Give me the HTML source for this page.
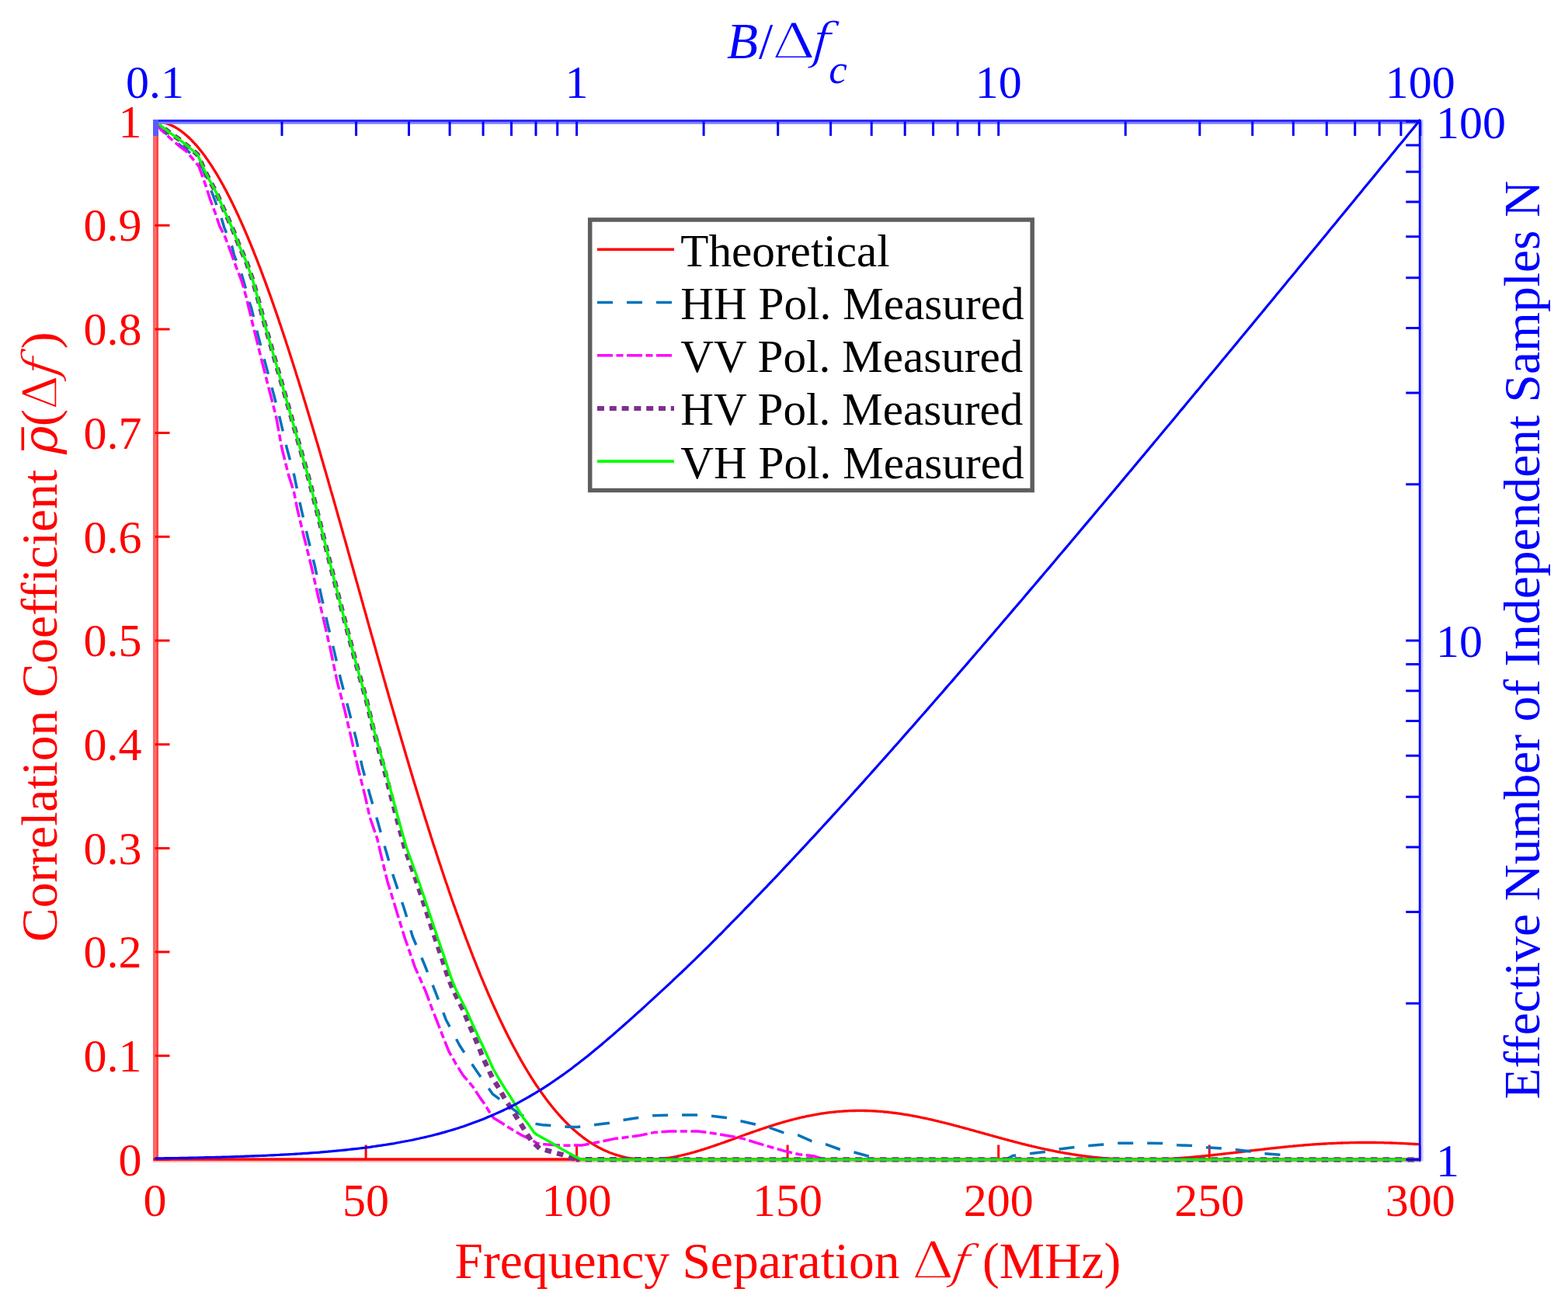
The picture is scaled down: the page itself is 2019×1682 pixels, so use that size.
<!DOCTYPE html>
<html><head><meta charset="utf-8"><title>Correlation coefficient vs frequency separation</title><style>html,body{margin:0;padding:0;background:#fff;overflow:hidden;}svg{display:block;}</style></head><body>
<svg width="2019" height="1682" viewBox="0 0 2019 1682">
<rect x="0" y="0" width="2019" height="1682" fill="#ffffff"/>
<rect x="197" y="156.5" width="3.5" height="1339.0" fill="#ff6464"/>
<rect x="200.5" y="156.5" width="3.5" height="1339.0" fill="#ff4646"/>
<rect x="197.5" y="1491.3" width="1631.3" height="3.6" fill="#ff0000"/>
<rect x="197.5" y="1494.9" width="1631.3" height="2" fill="#ffb4b4"/>
<path d="M199.5 1493.5H218.5M199.5 1359.8H218.5M199.5 1226.1H218.5M199.5 1092.4H218.5M199.5 958.7H218.5M199.5 825.0H218.5M199.5 691.3H218.5M199.5 557.6H218.5M199.5 423.9H218.5M199.5 290.2H218.5M199.5 156.5H218.5M471.1 1493.5V1474.5M742.6 1493.5V1474.5M1014.1 1493.5V1474.5M1285.7 1493.5V1474.5M1557.2 1493.5V1474.5M1828.8 1493.5V1474.5" stroke="#ff0000" stroke-width="3" fill="none"/>
<g fill="none" stroke-linejoin="round">
<polyline points="199.5,156.5 200.9,156.5 202.2,156.6 203.6,156.7 204.9,156.8 206.3,157.0 207.6,157.2 209.0,157.5 210.4,157.8 211.7,158.1 213.1,158.5 214.4,158.9 215.8,159.4 217.2,159.9 218.5,160.4 219.9,161.0 221.2,161.7 222.6,162.3 223.9,163.0 225.3,163.8 226.7,164.5 228.0,165.4 229.4,166.2 230.7,167.1 232.1,168.1 233.4,169.0 234.8,170.1 236.2,171.1 237.5,172.2 238.9,173.4 240.2,174.5 241.6,175.8 242.9,177.0 244.3,178.3 245.7,179.6 247.0,181.0 248.4,182.4 249.7,183.9 251.1,185.3 252.5,186.9 253.8,188.4 255.2,190.0 256.5,191.7 257.9,193.3 259.2,195.1 260.6,196.8 262.0,198.6 263.3,200.4 264.7,202.3 266.0,204.2 267.4,206.1 268.7,208.1 270.1,210.1 271.5,212.2 272.8,214.2 274.2,216.4 275.5,218.5 276.9,220.7 278.2,222.9 279.6,225.2 281.0,227.5 282.3,229.8 283.7,232.2 285.0,234.6 286.4,237.0 287.8,239.5 289.1,242.0 290.5,244.5 291.8,247.1 293.2,249.7 294.5,252.4 295.9,255.0 297.3,257.8 298.6,260.5 300.0,263.3 301.3,266.1 302.7,268.9 304.0,271.8 305.4,274.7 306.8,277.6 308.1,280.6 309.5,283.6 310.8,286.6 312.2,289.7 313.6,292.8 314.9,295.9 316.3,299.1 317.6,302.2 319.0,305.4 320.3,308.7 321.7,312.0 323.1,315.3 324.4,318.6 325.8,322.0 327.1,325.3 328.5,328.8 329.8,332.2 331.2,335.7 332.6,339.2 333.9,342.7 335.3,346.2 336.6,349.8 338.0,353.4 339.3,357.1 340.7,360.7 342.1,364.4 343.4,368.1 344.8,371.9 346.1,375.6 347.5,379.4 348.9,383.2 350.2,387.1 351.6,390.9 352.9,394.8 354.3,398.7 355.6,402.6 357.0,406.6 358.4,410.6 359.7,414.6 361.1,418.6 362.4,422.6 363.8,426.7 365.1,430.8 366.5,434.9 367.9,439.0 369.2,443.2 370.6,447.3 371.9,451.5 373.3,455.7 374.6,459.9 376.0,464.2 377.4,468.5 378.7,472.7 380.1,477.0 381.4,481.4 382.8,485.7 384.2,490.1 385.5,494.4 386.9,498.8 388.2,503.2 389.6,507.6 390.9,512.1 392.3,516.5 393.7,521.0 395.0,525.5 396.4,530.0 397.7,534.5 399.1,539.0 400.4,543.6 401.8,548.1 403.2,552.7 404.5,557.3 405.9,561.8 407.2,566.5 408.6,571.1 410.0,575.7 411.3,580.3 412.7,585.0 414.0,589.7 415.4,594.3 416.7,599.0 418.1,603.7 419.5,608.4 420.8,613.1 422.2,617.8 423.5,622.6 424.9,627.3 426.2,632.1 427.6,636.8 429.0,641.6 430.3,646.3 431.7,651.1 433.0,655.9 434.4,660.7 435.7,665.5 437.1,670.3 438.5,675.1 439.8,679.9 441.2,684.7 442.5,689.6 443.9,694.4 445.3,699.2 446.6,704.0 448.0,708.9 449.3,713.7 450.7,718.6 452.0,723.4 453.4,728.3 454.8,733.1 456.1,738.0 457.5,742.8 458.8,747.7 460.2,752.5 461.5,757.4 462.9,762.2 464.3,767.1 465.6,772.0 467.0,776.8 468.3,781.7 469.7,786.5 471.1,791.4 472.4,796.2 473.8,801.1 475.1,805.9 476.5,810.8 477.8,815.6 479.2,820.4 480.6,825.3 481.9,830.1 483.3,834.9 484.6,839.7 486.0,844.6 487.3,849.4 488.7,854.2 490.1,859.0 491.4,863.8 492.8,868.6 494.1,873.4 495.5,878.1 496.8,882.9 498.2,887.7 499.6,892.4 500.9,897.2 502.3,901.9 503.6,906.6 505.0,911.4 506.4,916.1 507.7,920.8 509.1,925.5 510.4,930.2 511.8,934.9 513.1,939.5 514.5,944.2 515.9,948.8 517.2,953.5 518.6,958.1 519.9,962.7 521.3,967.3 522.6,971.9 524.0,976.5 525.4,981.1 526.7,985.7 528.1,990.2 529.4,994.7 530.8,999.3 532.1,1003.8 533.5,1008.3 534.9,1012.8 536.2,1017.2 537.6,1021.7 538.9,1026.1 540.3,1030.6 541.7,1035.0 543.0,1039.4 544.4,1043.7 545.7,1048.1 547.1,1052.5 548.4,1056.8 549.8,1061.1 551.2,1065.4 552.5,1069.7 553.9,1074.0 555.2,1078.3 556.6,1082.5 557.9,1086.7 559.3,1090.9 560.7,1095.1 562.0,1099.3 563.4,1103.5 564.7,1107.6 566.1,1111.7 567.5,1115.8 568.8,1119.9 570.2,1124.0 571.5,1128.0 572.9,1132.0 574.2,1136.0 575.6,1140.0 577.0,1144.0 578.3,1148.0 579.7,1151.9 581.0,1155.8 582.4,1159.7 583.7,1163.6 585.1,1167.4 586.5,1171.2 587.8,1175.1 589.2,1178.8 590.5,1182.6 591.9,1186.4 593.2,1190.1 594.6,1193.8 596.0,1197.5 597.3,1201.2 598.7,1204.8 600.0,1208.4 601.4,1212.0 602.8,1215.6 604.1,1219.2 605.5,1222.7 606.8,1226.2 608.2,1229.7 609.5,1233.2 610.9,1236.6 612.3,1240.0 613.6,1243.4 615.0,1246.8 616.3,1250.2 617.7,1253.5 619.0,1256.8 620.4,1260.1 621.8,1263.4 623.1,1266.6 624.5,1269.8 625.8,1273.0 627.2,1276.2 628.5,1279.4 629.9,1282.5 631.3,1285.6 632.6,1288.7 634.0,1291.7 635.3,1294.8 636.7,1297.8 638.1,1300.7 639.4,1303.7 640.8,1306.6 642.1,1309.6 643.5,1312.4 644.8,1315.3 646.2,1318.1 647.6,1321.0 648.9,1323.7 650.3,1326.5 651.6,1329.3 653.0,1332.0 654.3,1334.7 655.7,1337.3 657.1,1340.0 658.4,1342.6 659.8,1345.2 661.1,1347.8 662.5,1350.3 663.9,1352.8 665.2,1355.3 666.6,1357.8 667.9,1360.3 669.3,1362.7 670.6,1365.1 672.0,1367.5 673.4,1369.8 674.7,1372.2 676.1,1374.5 677.4,1376.7 678.8,1379.0 680.1,1381.2 681.5,1383.4 682.9,1385.6 684.2,1387.8 685.6,1389.9 686.9,1392.0 688.3,1394.1 689.6,1396.2 691.0,1398.2 692.4,1400.2 693.7,1402.2 695.1,1404.2 696.4,1406.1 697.8,1408.0 699.2,1409.9 700.5,1411.8 701.9,1413.6 703.2,1415.5 704.6,1417.3 705.9,1419.0 707.3,1420.8 708.7,1422.5 710.0,1424.2 711.4,1425.9 712.7,1427.6 714.1,1429.2 715.4,1430.8 716.8,1432.4 718.2,1434.0 719.5,1435.5 720.9,1437.0 722.2,1438.5 723.6,1440.0 724.9,1441.4 726.3,1442.9 727.7,1444.3 729.0,1445.7 730.4,1447.0 731.7,1448.3 733.1,1449.7 734.5,1451.0 735.8,1452.2 737.2,1453.5 738.5,1454.7 739.9,1455.9 741.2,1457.1 742.6,1458.3 744.0,1459.4 745.3,1460.5 746.7,1461.6 748.0,1462.7 749.4,1463.8 750.7,1464.8 752.1,1465.8 753.5,1466.8 754.8,1467.8 756.2,1468.7 757.5,1469.7 758.9,1470.6 760.3,1471.5 761.6,1472.3 763.0,1473.2 764.3,1474.0 765.7,1474.8 767.0,1475.6 768.4,1476.4 769.8,1477.2 771.1,1477.9 772.5,1478.6 773.8,1479.3 775.2,1480.0 776.5,1480.7 777.9,1481.3 779.3,1481.9 780.6,1482.5 782.0,1483.1 783.3,1483.7 784.7,1484.3 786.0,1484.8 787.4,1485.3 788.8,1485.8 790.1,1486.3 791.5,1486.8 792.8,1487.2 794.2,1487.6 795.6,1488.0 796.9,1488.4 798.3,1488.8 799.6,1489.2 801.0,1489.5 802.3,1489.9 803.7,1490.2 805.1,1490.5 806.4,1490.8 807.8,1491.1 809.1,1491.3 810.5,1491.6 811.8,1491.8 813.2,1492.0 814.6,1492.2 815.9,1492.4 817.3,1492.5 818.6,1492.7 820.0,1492.8 821.3,1493.0 822.7,1493.1 824.1,1493.2 825.4,1493.3 826.8,1493.3 828.1,1493.4 829.5,1493.4 830.9,1493.5 832.2,1493.5 833.6,1493.5 834.9,1493.5 836.3,1493.5 837.6,1493.5 839.0,1493.4 840.4,1493.4 841.7,1493.3 843.1,1493.2 844.4,1493.1 845.8,1493.0 847.1,1492.9 848.5,1492.8 849.9,1492.7 851.2,1492.6 852.6,1492.4 853.9,1492.2 855.3,1492.1 856.7,1491.9 858.0,1491.7 859.4,1491.5 860.7,1491.3 862.1,1491.1 863.4,1490.9 864.8,1490.6 866.2,1490.4 867.5,1490.1 868.9,1489.9 870.2,1489.6 871.6,1489.3 872.9,1489.0 874.3,1488.8 875.7,1488.5 877.0,1488.2 878.4,1487.8 879.7,1487.5 881.1,1487.2 882.4,1486.9 883.8,1486.5 885.2,1486.2 886.5,1485.8 887.9,1485.5 889.2,1485.1 890.6,1484.7 892.0,1484.3 893.3,1484.0 894.7,1483.6 896.0,1483.2 897.4,1482.8 898.7,1482.4 900.1,1482.0 901.5,1481.6 902.8,1481.1 904.2,1480.7 905.5,1480.3 906.9,1479.9 908.2,1479.4 909.6,1479.0 911.0,1478.5 912.3,1478.1 913.7,1477.6 915.0,1477.2 916.4,1476.7 917.7,1476.3 919.1,1475.8 920.5,1475.4 921.8,1474.9 923.2,1474.4 924.5,1473.9 925.9,1473.5 927.3,1473.0 928.6,1472.5 930.0,1472.0 931.3,1471.6 932.7,1471.1 934.0,1470.6 935.4,1470.1 936.8,1469.6 938.1,1469.1 939.5,1468.7 940.8,1468.2 942.2,1467.7 943.5,1467.2 944.9,1466.7 946.3,1466.2 947.6,1465.7 949.0,1465.2 950.3,1464.7 951.7,1464.2 953.1,1463.8 954.4,1463.3 955.8,1462.8 957.1,1462.3 958.5,1461.8 959.8,1461.3 961.2,1460.8 962.6,1460.3 963.9,1459.9 965.3,1459.4 966.6,1458.9 968.0,1458.4 969.3,1457.9 970.7,1457.5 972.1,1457.0 973.4,1456.5 974.8,1456.0 976.1,1455.6 977.5,1455.1 978.8,1454.6 980.2,1454.2 981.6,1453.7 982.9,1453.3 984.3,1452.8 985.6,1452.4 987.0,1451.9 988.4,1451.5 989.7,1451.0 991.1,1450.6 992.4,1450.2 993.8,1449.7 995.1,1449.3 996.5,1448.9 997.9,1448.4 999.2,1448.0 1000.6,1447.6 1001.9,1447.2 1003.3,1446.8 1004.6,1446.4 1006.0,1446.0 1007.4,1445.6 1008.7,1445.2 1010.1,1444.8 1011.4,1444.4 1012.8,1444.0 1014.1,1443.7 1015.5,1443.3 1016.9,1442.9 1018.2,1442.6 1019.6,1442.2 1020.9,1441.9 1022.3,1441.5 1023.7,1441.2 1025.0,1440.8 1026.4,1440.5 1027.7,1440.2 1029.1,1439.8 1030.4,1439.5 1031.8,1439.2 1033.2,1438.9 1034.5,1438.6 1035.9,1438.3 1037.2,1438.0 1038.6,1437.7 1039.9,1437.4 1041.3,1437.1 1042.7,1436.9 1044.0,1436.6 1045.4,1436.3 1046.7,1436.1 1048.1,1435.8 1049.5,1435.6 1050.8,1435.3 1052.2,1435.1 1053.5,1434.9 1054.9,1434.6 1056.2,1434.4 1057.6,1434.2 1059.0,1434.0 1060.3,1433.8 1061.7,1433.6 1063.0,1433.4 1064.4,1433.2 1065.7,1433.1 1067.1,1432.9 1068.5,1432.7 1069.8,1432.6 1071.2,1432.4 1072.5,1432.3 1073.9,1432.1 1075.2,1432.0 1076.6,1431.8 1078.0,1431.7 1079.3,1431.6 1080.7,1431.5 1082.0,1431.4 1083.4,1431.3 1084.8,1431.2 1086.1,1431.1 1087.5,1431.0 1088.8,1430.9 1090.2,1430.8 1091.5,1430.8 1092.9,1430.7 1094.3,1430.7 1095.6,1430.6 1097.0,1430.6 1098.3,1430.5 1099.7,1430.5 1101.0,1430.5 1102.4,1430.4 1103.8,1430.4 1105.1,1430.4 1106.5,1430.4 1107.8,1430.4 1109.2,1430.4 1110.6,1430.4 1111.9,1430.4 1113.3,1430.5 1114.6,1430.5 1116.0,1430.5 1117.3,1430.6 1118.7,1430.6 1120.1,1430.7 1121.4,1430.7 1122.8,1430.8 1124.1,1430.9 1125.5,1430.9 1126.8,1431.0 1128.2,1431.1 1129.6,1431.2 1130.9,1431.3 1132.3,1431.4 1133.6,1431.5 1135.0,1431.6 1136.3,1431.7 1137.7,1431.8 1139.1,1432.0 1140.4,1432.1 1141.8,1432.2 1143.1,1432.4 1144.5,1432.5 1145.9,1432.7 1147.2,1432.8 1148.6,1433.0 1149.9,1433.2 1151.3,1433.3 1152.6,1433.5 1154.0,1433.7 1155.4,1433.9 1156.7,1434.1 1158.1,1434.2 1159.4,1434.4 1160.8,1434.6 1162.1,1434.9 1163.5,1435.1 1164.9,1435.3 1166.2,1435.5 1167.6,1435.7 1168.9,1436.0 1170.3,1436.2 1171.6,1436.4 1173.0,1436.7 1174.4,1436.9 1175.7,1437.2 1177.1,1437.4 1178.4,1437.7 1179.8,1437.9 1181.2,1438.2 1182.5,1438.5 1183.9,1438.7 1185.2,1439.0 1186.6,1439.3 1187.9,1439.6 1189.3,1439.8 1190.7,1440.1 1192.0,1440.4 1193.4,1440.7 1194.7,1441.0 1196.1,1441.3 1197.4,1441.6 1198.8,1441.9 1200.2,1442.2 1201.5,1442.5 1202.9,1442.9 1204.2,1443.2 1205.6,1443.5 1207.0,1443.8 1208.3,1444.1 1209.7,1444.5 1211.0,1444.8 1212.4,1445.1 1213.7,1445.5 1215.1,1445.8 1216.5,1446.1 1217.8,1446.5 1219.2,1446.8 1220.5,1447.2 1221.9,1447.5 1223.2,1447.9 1224.6,1448.2 1226.0,1448.6 1227.3,1448.9 1228.7,1449.3 1230.0,1449.6 1231.4,1450.0 1232.7,1450.4 1234.1,1450.7 1235.5,1451.1 1236.8,1451.5 1238.2,1451.8 1239.5,1452.2 1240.9,1452.6 1242.3,1452.9 1243.6,1453.3 1245.0,1453.7 1246.3,1454.0 1247.7,1454.4 1249.0,1454.8 1250.4,1455.2 1251.8,1455.5 1253.1,1455.9 1254.5,1456.3 1255.8,1456.7 1257.2,1457.1 1258.5,1457.4 1259.9,1457.8 1261.3,1458.2 1262.6,1458.6 1264.0,1458.9 1265.3,1459.3 1266.7,1459.7 1268.0,1460.1 1269.4,1460.5 1270.8,1460.8 1272.1,1461.2 1273.5,1461.6 1274.8,1462.0 1276.2,1462.4 1277.6,1462.7 1278.9,1463.1 1280.3,1463.5 1281.6,1463.9 1283.0,1464.2 1284.3,1464.6 1285.7,1465.0 1287.1,1465.4 1288.4,1465.7 1289.8,1466.1 1291.1,1466.5 1292.5,1466.8 1293.8,1467.2 1295.2,1467.6 1296.6,1467.9 1297.9,1468.3 1299.3,1468.7 1300.6,1469.0 1302.0,1469.4 1303.4,1469.7 1304.7,1470.1 1306.1,1470.5 1307.4,1470.8 1308.8,1471.2 1310.1,1471.5 1311.5,1471.9 1312.9,1472.2 1314.2,1472.6 1315.6,1472.9 1316.9,1473.3 1318.3,1473.6 1319.6,1473.9 1321.0,1474.3 1322.4,1474.6 1323.7,1474.9 1325.1,1475.3 1326.4,1475.6 1327.8,1475.9 1329.1,1476.3 1330.5,1476.6 1331.9,1476.9 1333.2,1477.2 1334.6,1477.5 1335.9,1477.8 1337.3,1478.2 1338.7,1478.5 1340.0,1478.8 1341.4,1479.1 1342.7,1479.4 1344.1,1479.7 1345.4,1480.0 1346.8,1480.3 1348.2,1480.5 1349.5,1480.8 1350.9,1481.1 1352.2,1481.4 1353.6,1481.7 1354.9,1481.9 1356.3,1482.2 1357.7,1482.5 1359.0,1482.8 1360.4,1483.0 1361.7,1483.3 1363.1,1483.5 1364.4,1483.8 1365.8,1484.1 1367.2,1484.3 1368.5,1484.5 1369.9,1484.8 1371.2,1485.0 1372.6,1485.3 1374.0,1485.5 1375.3,1485.7 1376.7,1486.0 1378.0,1486.2 1379.4,1486.4 1380.7,1486.6 1382.1,1486.8 1383.5,1487.0 1384.8,1487.3 1386.2,1487.5 1387.5,1487.7 1388.9,1487.9 1390.2,1488.1 1391.6,1488.2 1393.0,1488.4 1394.3,1488.6 1395.7,1488.8 1397.0,1489.0 1398.4,1489.1 1399.8,1489.3 1401.1,1489.5 1402.5,1489.6 1403.8,1489.8 1405.2,1490.0 1406.5,1490.1 1407.9,1490.3 1409.3,1490.4 1410.6,1490.6 1412.0,1490.7 1413.3,1490.8 1414.7,1491.0 1416.0,1491.1 1417.4,1491.2 1418.8,1491.3 1420.1,1491.5 1421.5,1491.6 1422.8,1491.7 1424.2,1491.8 1425.5,1491.9 1426.9,1492.0 1428.3,1492.1 1429.6,1492.2 1431.0,1492.3 1432.3,1492.4 1433.7,1492.5 1435.1,1492.5 1436.4,1492.6 1437.8,1492.7 1439.1,1492.8 1440.5,1492.8 1441.8,1492.9 1443.2,1493.0 1444.6,1493.0 1445.9,1493.1 1447.3,1493.1 1448.6,1493.2 1450.0,1493.2 1451.3,1493.3 1452.7,1493.3 1454.1,1493.3 1455.4,1493.4 1456.8,1493.4 1458.1,1493.4 1459.5,1493.4 1460.8,1493.5 1462.2,1493.5 1463.6,1493.5 1464.9,1493.5 1466.3,1493.5 1467.6,1493.5 1469.0,1493.5 1470.4,1493.5 1471.7,1493.5 1473.1,1493.5 1474.4,1493.5 1475.8,1493.5 1477.1,1493.4 1478.5,1493.4 1479.9,1493.4 1481.2,1493.4 1482.6,1493.3 1483.9,1493.3 1485.3,1493.3 1486.6,1493.2 1488.0,1493.2 1489.4,1493.1 1490.7,1493.1 1492.1,1493.0 1493.4,1493.0 1494.8,1492.9 1496.2,1492.9 1497.5,1492.8 1498.9,1492.8 1500.2,1492.7 1501.6,1492.6 1502.9,1492.6 1504.3,1492.5 1505.7,1492.4 1507.0,1492.3 1508.4,1492.3 1509.7,1492.2 1511.1,1492.1 1512.4,1492.0 1513.8,1491.9 1515.2,1491.8 1516.5,1491.7 1517.9,1491.6 1519.2,1491.5 1520.6,1491.4 1521.9,1491.3 1523.3,1491.2 1524.7,1491.1 1526.0,1491.0 1527.4,1490.9 1528.7,1490.8 1530.1,1490.7 1531.5,1490.6 1532.8,1490.5 1534.2,1490.3 1535.5,1490.2 1536.9,1490.1 1538.2,1490.0 1539.6,1489.9 1541.0,1489.7 1542.3,1489.6 1543.7,1489.5 1545.0,1489.3 1546.4,1489.2 1547.7,1489.1 1549.1,1488.9 1550.5,1488.8 1551.8,1488.7 1553.2,1488.5 1554.5,1488.4 1555.9,1488.3 1557.2,1488.1 1558.6,1488.0 1560.0,1487.8 1561.3,1487.7 1562.7,1487.5 1564.0,1487.4 1565.4,1487.2 1566.8,1487.1 1568.1,1486.9 1569.5,1486.8 1570.8,1486.6 1572.2,1486.5 1573.5,1486.3 1574.9,1486.2 1576.3,1486.0 1577.6,1485.9 1579.0,1485.7 1580.3,1485.6 1581.7,1485.4 1583.0,1485.2 1584.4,1485.1 1585.8,1484.9 1587.1,1484.8 1588.5,1484.6 1589.8,1484.4 1591.2,1484.3 1592.6,1484.1 1593.9,1484.0 1595.3,1483.8 1596.6,1483.6 1598.0,1483.5 1599.3,1483.3 1600.7,1483.2 1602.1,1483.0 1603.4,1482.8 1604.8,1482.7 1606.1,1482.5 1607.5,1482.4 1608.8,1482.2 1610.2,1482.0 1611.6,1481.9 1612.9,1481.7 1614.3,1481.6 1615.6,1481.4 1617.0,1481.2 1618.3,1481.1 1619.7,1480.9 1621.1,1480.8 1622.4,1480.6 1623.8,1480.5 1625.1,1480.3 1626.5,1480.2 1627.9,1480.0 1629.2,1479.8 1630.6,1479.7 1631.9,1479.5 1633.3,1479.4 1634.6,1479.2 1636.0,1479.1 1637.4,1478.9 1638.7,1478.8 1640.1,1478.6 1641.4,1478.5 1642.8,1478.3 1644.1,1478.2 1645.5,1478.1 1646.9,1477.9 1648.2,1477.8 1649.6,1477.6 1650.9,1477.5 1652.3,1477.4 1653.7,1477.2 1655.0,1477.1 1656.4,1476.9 1657.7,1476.8 1659.1,1476.7 1660.4,1476.5 1661.8,1476.4 1663.2,1476.3 1664.5,1476.2 1665.9,1476.0 1667.2,1475.9 1668.6,1475.8 1669.9,1475.7 1671.3,1475.5 1672.7,1475.4 1674.0,1475.3 1675.4,1475.2 1676.7,1475.1 1678.1,1475.0 1679.4,1474.9 1680.8,1474.7 1682.2,1474.6 1683.5,1474.5 1684.9,1474.4 1686.2,1474.3 1687.6,1474.2 1689.0,1474.1 1690.3,1474.0 1691.7,1473.9 1693.0,1473.8 1694.4,1473.7 1695.7,1473.6 1697.1,1473.6 1698.5,1473.5 1699.8,1473.4 1701.2,1473.3 1702.5,1473.2 1703.9,1473.1 1705.2,1473.0 1706.6,1473.0 1708.0,1472.9 1709.3,1472.8 1710.7,1472.7 1712.0,1472.7 1713.4,1472.6 1714.7,1472.5 1716.1,1472.5 1717.5,1472.4 1718.8,1472.4 1720.2,1472.3 1721.5,1472.2 1722.9,1472.2 1724.3,1472.1 1725.6,1472.1 1727.0,1472.0 1728.3,1472.0 1729.7,1471.9 1731.0,1471.9 1732.4,1471.9 1733.8,1471.8 1735.1,1471.8 1736.5,1471.8 1737.8,1471.7 1739.2,1471.7 1740.5,1471.7 1741.9,1471.6 1743.3,1471.6 1744.6,1471.6 1746.0,1471.6 1747.3,1471.5 1748.7,1471.5 1750.1,1471.5 1751.4,1471.5 1752.8,1471.5 1754.1,1471.5 1755.5,1471.5 1756.8,1471.5 1758.2,1471.5 1759.6,1471.5 1760.9,1471.5 1762.3,1471.5 1763.6,1471.5 1765.0,1471.5 1766.3,1471.5 1767.7,1471.5 1769.1,1471.5 1770.4,1471.5 1771.8,1471.5 1773.1,1471.6 1774.5,1471.6 1775.8,1471.6 1777.2,1471.6 1778.6,1471.7 1779.9,1471.7 1781.3,1471.7 1782.6,1471.8 1784.0,1471.8 1785.4,1471.8 1786.7,1471.9 1788.1,1471.9 1789.4,1471.9 1790.8,1472.0 1792.1,1472.0 1793.5,1472.1 1794.9,1472.1 1796.2,1472.2 1797.6,1472.2 1798.9,1472.3 1800.3,1472.3 1801.6,1472.4 1803.0,1472.5 1804.4,1472.5 1805.7,1472.6 1807.1,1472.7 1808.4,1472.7 1809.8,1472.8 1811.1,1472.9 1812.5,1472.9 1813.9,1473.0 1815.2,1473.1 1816.6,1473.1 1817.9,1473.2 1819.3,1473.3 1820.7,1473.4 1822.0,1473.5 1823.4,1473.6 1824.7,1473.6 1826.1,1473.7 1827.4,1473.8 1828.8,1473.9" stroke="#ff0000" stroke-width="3.3"/>
<polyline points="199.5,156.5 207.5,166.5 219.5,177.0 232.5,187.5 242.0,194.5 249.5,202.0 260.0,214.0 268.0,236.5 274.3,251.4 285.7,282.8 288.6,292.8 298.6,317.0 301.4,328.5 311.4,354.2 314.3,364.2 321.4,390.0 323.8,397.1 332.8,434.2 342.3,470.4 352.3,507.4 359.9,536.9 369.3,577.0 378.6,611.3 386.3,648.5 396.6,693.3 405.5,729.5 413.7,767.5 421.8,803.6 429.9,836.9 439.0,876.0 449.0,914.3 458.5,951.4 466.6,988.5 477.1,1026.5 484.8,1052.7 494.9,1088.6 505.6,1125.7 520.5,1170.5 531.4,1206.5 546.6,1242.3 560.8,1277.9 574.2,1313.2 591.9,1346.5 613.3,1378.8 634.5,1409.2 666.6,1432.8 688.3,1447.2" stroke="#0072bd" stroke-width="3.5" stroke-dasharray="20 18" stroke-dashoffset="34.7"/>
<polyline points="688.3,1447.2 698.2,1448.7 736.6,1451.6 743.0,1451.5 764.0,1448.8 783.0,1446.6 802.0,1442.5 821.8,1439.5 840.0,1436.8 859.0,1436.3 877.3,1436.1 897.0,1436.1 916.0,1437.3 935.0,1439.5 952.6,1443.5 972.4,1448.0 991.0,1452.3 1008.5,1458.6 1027.5,1461.8 1045.0,1469.7 1063.0,1473.7 1080.6,1480.0 1099.7,1484.0 1117.0,1488.7 1130.0,1493.5 1295.0,1493.5" stroke="#0072bd" stroke-width="3.5" stroke-dasharray="20 18" stroke-dashoffset="36.8"/>
<polyline points="1295.0,1493.5 1304.0,1488.5 1326.0,1485.8 1345.0,1483.5 1364.0,1480.0 1383.8,1477.5 1402.8,1475.5 1420.3,1474.0 1440.0,1472.3 1459.0,1472.3 1478.0,1472.3 1498.0,1472.6 1516.0,1474.7 1534.4,1475.5 1553.4,1477.8 1573.2,1479.0 1592.0,1480.8 1610.3,1483.0 1628.3,1485.8 1649.0,1487.2 1666.0,1493.5 1828.8,1493.5" stroke="#0072bd" stroke-width="3.5" stroke-dasharray="20 18" stroke-dashoffset="5.5"/>
<polyline points="199.5,156.5 207.1,166.9 219.0,177.8 230.9,188.3 239.5,194.5 246.6,202.6 256.1,214.5 264.3,237.1 270.7,257.1 277.1,274.2 282.8,291.3 290.0,305.6 296.4,322.7 304.2,344.2 311.4,362.7 317.1,382.7 320.4,397.1 329.5,434.2 338.5,470.4 348.0,507.4 355.6,536.9 362.9,577.0 371.4,611.3 378.6,634.1 382.8,655.7 391.9,693.3 400.9,729.5 409.5,767.5 418.0,803.6 425.6,836.9 434.3,878.5 443.8,914.3 452.5,951.4 460.9,988.5 470.4,1026.5 476.1,1052.2 485.7,1080.0 490.0,1098.6 498.6,1134.2 510.0,1171.4 521.4,1208.5 534.3,1245.6 541.9,1262.8 548.6,1278.0 556.2,1299.0 563.8,1318.0 570.4,1335.1 578.0,1354.1 586.6,1369.4 596.1,1384.6 606.6,1396.9 609.2,1400.0 618.3,1414.1 625.0,1423.3 629.5,1431.0 635.8,1440.0 646.6,1446.6 658.3,1454.1 670.8,1461.6 683.3,1467.4 691.6,1472.4 704.1,1474.1" stroke="#ff00ff" stroke-width="3.5" stroke-dasharray="20 4.5 9 4.5"/>
<polyline points="704.1,1474.1 729.1,1475.3 749.9,1474.9 768.7,1471.3 791.0,1466.6 822.6,1462.6 841.6,1458.6 862.3,1457.0 898.7,1457.0 917.7,1459.4 941.5,1463.4 957.3,1466.6 974.8,1472.1 993.8,1477.7 1010.0,1482.4 1029.0,1486.8 1047.0,1488.7 1062.0,1493.5 1828.8,1493.5" stroke="#ff00ff" stroke-width="3.5" stroke-dasharray="20 4.5 9 4.5" stroke-dashoffset="3.1"/>
<polyline points="199.5,156.5 206.2,161.2 218.1,170.7 230.9,179.7 242.8,189.2 254.3,199.0 263.3,219.2 271.3,235.0 278.5,248.1 286.5,266.0 294.6,283.8 300.8,298.0 307.1,314.2 317.1,337.0 325.6,361.3 332.8,387.0 339.9,414.1 368.6,514.2 398.6,620.0 416.0,689.5 425.5,727.6 435.2,765.6 445.0,803.6 460.0,860.0 471.4,900.0 480.4,938.0 495.9,995.1 510.5,1052.2 520.6,1090.0 538.0,1140.0 548.3,1171.4 558.4,1202.8 567.8,1230.4 577.1,1258.9 582.7,1273.2 589.3,1286.5 596.5,1301.0 603.9,1319.0 610.0,1333.2 616.2,1347.5 621.6,1361.7 627.5,1374.2 634.1,1388.3 642.5,1401.6 650.0,1415.0 659.1,1429.1 667.4,1442.4 675.8,1455.8 684.1,1469.1 694.9,1479.1 709.9,1483.2 724.9,1487.4 741.5,1493.3" stroke="#7e2f8e" stroke-width="6.4" stroke-dasharray="8.5 7.3"/>
<polyline points="741.5,1493.3 1828.8,1493.5" stroke="#7e2f8e" stroke-width="6.4" stroke-dasharray="8.5 7.3" stroke-dashoffset="3.6"/>
<polyline points="199.5,156.5 206.2,161.2 218.1,170.7 230.9,179.7 242.8,189.2 254.3,199.0 263.3,219.2 271.3,235.0 278.5,248.1 286.5,266.0 294.6,283.8 300.8,298.0 307.1,314.2 317.1,337.0 325.6,361.3 332.8,387.0 339.9,414.1 368.6,514.2 398.6,620.0 416.0,689.5 425.5,727.6 435.2,765.6 445.0,803.6 460.0,860.0 471.4,900.0 480.9,938.0 497.0,995.1 512.3,1052.2 522.9,1090.0 540.9,1140.0 551.4,1171.4 561.8,1202.8 571.3,1230.4 580.8,1258.9 586.5,1273.2 593.2,1286.5 600.5,1301.0 608.5,1319.0 615.1,1333.2 621.8,1347.5 628.5,1362.0 635.0,1376.5 642.5,1389.5 650.0,1401.6 658.3,1414.1 663.3,1422.4 673.3,1439.1 679.9,1447.4 687.4,1458.3 691.6,1461.6 708.2,1470.7 724.9,1480.7 741.5,1489.9 749.0,1493.5 1828.8,1493.5" stroke="#00ff00" stroke-width="3.4"/>
</g>
<rect x="197.0" y="154" width="1633.3" height="3" fill="#2a2aff"/>
<rect x="200.5" y="157" width="1628.3" height="2.8" fill="#8080ff"/>
<rect x="1826.8" y="154" width="3" height="1341.5" fill="#0000ff"/>
<rect x="1829.8" y="154" width="2.8" height="1341.5" fill="#c8c8ff"/>
<path d="M199.5 156.5V175.0M363.0 156.5V175.0M458.6 156.5V175.0M526.5 156.5V175.0M579.1 156.5V175.0M622.1 156.5V175.0M658.5 156.5V175.0M690.0 156.5V175.0M717.7 156.5V175.0M742.6 156.5V175.0M906.1 156.5V175.0M1001.7 156.5V175.0M1069.6 156.5V175.0M1122.2 156.5V175.0M1165.2 156.5V175.0M1201.6 156.5V175.0M1233.1 156.5V175.0M1260.8 156.5V175.0M1285.7 156.5V175.0M1449.2 156.5V175.0M1544.8 156.5V175.0M1612.7 156.5V175.0M1665.3 156.5V175.0M1708.3 156.5V175.0M1744.7 156.5V175.0M1776.2 156.5V175.0M1803.9 156.5V175.0M1828.8 156.5V175.0M1828.8 1493.5H1810.3M1828.8 1292.3H1810.3M1828.8 1174.5H1810.3M1828.8 1091.0H1810.3M1828.8 1026.2H1810.3M1828.8 973.3H1810.3M1828.8 928.6H1810.3M1828.8 889.8H1810.3M1828.8 855.6H1810.3M1828.8 825.0H1810.3M1828.8 623.8H1810.3M1828.8 506.0H1810.3M1828.8 422.5H1810.3M1828.8 357.7H1810.3M1828.8 304.8H1810.3M1828.8 260.1H1810.3M1828.8 221.3H1810.3M1828.8 187.1H1810.3M1828.8 156.5H1810.3" stroke="#0000ff" stroke-width="3" fill="none"/>
<rect x="197" y="154" width="7" height="21" fill="#5a5aff"/>
<polyline points="199.5,1491.9 202.2,1491.9 204.9,1491.8 207.6,1491.8 210.4,1491.8 213.1,1491.7 215.8,1491.7 218.5,1491.6 221.2,1491.6 223.9,1491.5 226.7,1491.5 229.4,1491.5 232.1,1491.4 234.8,1491.4 237.5,1491.3 240.2,1491.3 242.9,1491.2 245.7,1491.2 248.4,1491.1 251.1,1491.0 253.8,1491.0 256.5,1490.9 259.2,1490.9 262.0,1490.8 264.7,1490.7 267.4,1490.7 270.1,1490.6 272.8,1490.5 275.5,1490.5 278.2,1490.4 281.0,1490.3 283.7,1490.3 286.4,1490.2 289.1,1490.1 291.8,1490.0 294.5,1490.0 297.3,1489.9 300.0,1489.8 302.7,1489.7 305.4,1489.6 308.1,1489.5 310.8,1489.4 313.6,1489.3 316.3,1489.2 319.0,1489.1 321.7,1489.0 324.4,1488.9 327.1,1488.8 329.8,1488.7 332.6,1488.6 335.3,1488.5 338.0,1488.4 340.7,1488.3 343.4,1488.2 346.1,1488.0 348.9,1487.9 351.6,1487.8 354.3,1487.6 357.0,1487.5 359.7,1487.4 362.4,1487.2 365.1,1487.1 367.9,1486.9 370.6,1486.8 373.3,1486.6 376.0,1486.5 378.7,1486.3 381.4,1486.1 384.2,1486.0 386.9,1485.8 389.6,1485.6 392.3,1485.4 395.0,1485.3 397.7,1485.1 400.4,1484.9 403.2,1484.7 405.9,1484.5 408.6,1484.3 411.3,1484.1 414.0,1483.8 416.7,1483.6 419.5,1483.4 422.2,1483.2 424.9,1482.9 427.6,1482.7 430.3,1482.4 433.0,1482.2 435.7,1481.9 438.5,1481.7 441.2,1481.4 443.9,1481.1 446.6,1480.8 449.3,1480.5 452.0,1480.2 454.8,1479.9 457.5,1479.6 460.2,1479.3 462.9,1479.0 465.6,1478.7 468.3,1478.3 471.0,1478.0 473.8,1477.6 476.5,1477.3 479.2,1476.9 481.9,1476.5 484.6,1476.1 487.3,1475.7 490.1,1475.3 492.8,1474.9 495.5,1474.5 498.2,1474.1 500.9,1473.7 503.6,1473.2 506.4,1472.8 509.1,1472.3 511.8,1471.8 514.5,1471.3 517.2,1470.8 519.9,1470.3 522.6,1469.8 525.4,1469.3 528.1,1468.7 530.8,1468.2 533.5,1467.6 536.2,1467.0 538.9,1466.5 541.7,1465.8 544.4,1465.2 547.1,1464.6 549.8,1464.0 552.5,1463.3 555.2,1462.7 557.9,1462.0 560.7,1461.3 563.4,1460.6 566.1,1459.9 568.8,1459.1 571.5,1458.4 574.2,1457.6 577.0,1456.8 579.7,1456.0 582.4,1455.2 585.1,1454.4 587.8,1453.5 590.5,1452.7 593.2,1451.8 596.0,1450.9 598.7,1450.0 601.4,1449.0 604.1,1448.1 606.8,1447.1 609.5,1446.1 612.3,1445.1 615.0,1444.1 617.7,1443.0 620.4,1442.0 623.1,1440.9 625.8,1439.8 628.5,1438.6 631.3,1437.5 634.0,1436.3 636.7,1435.1 639.4,1433.9 642.1,1432.7 644.8,1431.5 647.6,1430.2 650.3,1428.9 653.0,1427.6 655.7,1426.2 658.4,1424.9 661.1,1423.5 663.9,1422.1 666.6,1420.6 669.3,1419.2 672.0,1417.7 674.7,1416.2 677.4,1414.7 680.1,1413.1 682.9,1411.5 685.6,1409.9 688.3,1408.3 691.0,1406.7 693.7,1405.0 696.4,1403.3 699.2,1401.6 701.9,1399.9 704.6,1398.1 707.3,1396.3 710.0,1394.5 712.7,1392.7 715.4,1390.8 718.2,1388.9 720.9,1387.0 723.6,1385.1 726.3,1383.2 729.0,1381.2 731.7,1379.2 734.5,1377.2 737.2,1375.2 739.9,1373.1 742.6,1371.0 745.3,1368.9 748.0,1366.8 750.7,1364.7 753.5,1362.5 756.2,1360.4 758.9,1358.2 761.6,1356.0 764.3,1353.8 767.0,1351.5 769.8,1349.3 772.5,1347.0 775.2,1344.7 777.9,1342.4 780.6,1340.1 783.3,1337.8 786.0,1335.5 788.8,1333.1 791.5,1330.8 794.2,1328.4 796.9,1326.0 799.6,1323.6 802.3,1321.2 805.1,1318.8 807.8,1316.4 810.5,1314.0 813.2,1311.6 815.9,1309.1 818.6,1306.7 821.3,1304.2 824.1,1301.8 826.8,1299.3 829.5,1296.8 832.2,1294.4 834.9,1291.9 837.6,1289.4 840.4,1286.9 843.1,1284.4 845.8,1281.9 848.5,1279.4 851.2,1276.9 853.9,1274.4 856.7,1271.9 859.4,1269.3 862.1,1266.8 864.8,1264.3 867.5,1261.7 870.2,1259.2 872.9,1256.6 875.7,1254.0 878.4,1251.5 881.1,1248.9 883.8,1246.3 886.5,1243.7 889.2,1241.1 892.0,1238.4 894.7,1235.8 897.4,1233.2 900.1,1230.5 902.8,1227.8 905.5,1225.2 908.2,1222.5 911.0,1219.8 913.7,1217.1 916.4,1214.4 919.1,1211.7 921.8,1209.0 924.5,1206.2 927.3,1203.5 930.0,1200.8 932.7,1198.0 935.4,1195.2 938.1,1192.5 940.8,1189.7 943.5,1186.9 946.3,1184.2 949.0,1181.4 951.7,1178.6 954.4,1175.8 957.1,1173.0 959.8,1170.2 962.6,1167.4 965.3,1164.6 968.0,1161.8 970.7,1159.0 973.4,1156.2 976.1,1153.4 978.8,1150.6 981.6,1147.7 984.3,1144.9 987.0,1142.1 989.7,1139.2 992.4,1136.4 995.1,1133.5 997.9,1130.6 1000.6,1127.8 1003.3,1124.9 1006.0,1122.0 1008.7,1119.1 1011.4,1116.2 1014.1,1113.3 1016.9,1110.4 1019.6,1107.5 1022.3,1104.6 1025.0,1101.7 1027.7,1098.8 1030.4,1095.9 1033.2,1092.9 1035.9,1090.0 1038.6,1087.1 1041.3,1084.1 1044.0,1081.2 1046.7,1078.3 1049.5,1075.3 1052.2,1072.4 1054.9,1069.4 1057.6,1066.5 1060.3,1063.5 1063.0,1060.6 1065.7,1057.6 1068.5,1054.6 1071.2,1051.6 1073.9,1048.7 1076.6,1045.7 1079.3,1042.7 1082.0,1039.7 1084.8,1036.7 1087.5,1033.7 1090.2,1030.7 1092.9,1027.7 1095.6,1024.7 1098.3,1021.7 1101.0,1018.6 1103.8,1015.6 1106.5,1012.6 1109.2,1009.6 1111.9,1006.6 1114.6,1003.5 1117.3,1000.5 1120.1,997.5 1122.8,994.4 1125.5,991.4 1128.2,988.4 1130.9,985.3 1133.6,982.3 1136.3,979.2 1139.1,976.1 1141.8,973.1 1144.5,970.0 1147.2,967.0 1149.9,963.9 1152.6,960.8 1155.4,957.8 1158.1,954.7 1160.8,951.6 1163.5,948.5 1166.2,945.4 1168.9,942.4 1171.6,939.3 1174.4,936.2 1177.1,933.1 1179.8,930.0 1182.5,926.9 1185.2,923.8 1187.9,920.7 1190.7,917.6 1193.4,914.5 1196.1,911.4 1198.8,908.3 1201.5,905.2 1204.2,902.0 1207.0,898.9 1209.7,895.8 1212.4,892.7 1215.1,889.6 1217.8,886.4 1220.5,883.3 1223.2,880.2 1226.0,877.1 1228.7,873.9 1231.4,870.8 1234.1,867.6 1236.8,864.5 1239.5,861.4 1242.3,858.2 1245.0,855.1 1247.7,851.9 1250.4,848.8 1253.1,845.6 1255.8,842.5 1258.5,839.3 1261.3,836.2 1264.0,833.0 1266.7,829.8 1269.4,826.7 1272.1,823.5 1274.8,820.4 1277.6,817.2 1280.3,814.0 1283.0,810.8 1285.7,807.7 1288.4,804.5 1291.1,801.3 1293.8,798.1 1296.6,795.0 1299.3,791.8 1302.0,788.6 1304.7,785.4 1307.4,782.2 1310.1,779.1 1312.9,775.9 1315.6,772.7 1318.3,769.5 1321.0,766.3 1323.7,763.1 1326.4,759.9 1329.1,756.7 1331.9,753.5 1334.6,750.3 1337.3,747.1 1340.0,743.9 1342.7,740.7 1345.4,737.5 1348.2,734.3 1350.9,731.1 1353.6,727.9 1356.3,724.7 1359.0,721.5 1361.7,718.2 1364.4,715.0 1367.2,711.8 1369.9,708.6 1372.6,705.4 1375.3,702.2 1378.0,698.9 1380.7,695.7 1383.5,692.5 1386.2,689.3 1388.9,686.1 1391.6,682.8 1394.3,679.6 1397.0,676.4 1399.8,673.1 1402.5,669.9 1405.2,666.7 1407.9,663.5 1410.6,660.2 1413.3,657.0 1416.0,653.7 1418.8,650.5 1421.5,647.3 1424.2,644.0 1426.9,640.8 1429.6,637.6 1432.3,634.3 1435.1,631.1 1437.8,627.8 1440.5,624.6 1443.2,621.3 1445.9,618.1 1448.6,614.8 1451.3,611.6 1454.1,608.3 1456.8,605.1 1459.5,601.8 1462.2,598.6 1464.9,595.3 1467.6,592.1 1470.4,588.8 1473.1,585.6 1475.8,582.3 1478.5,579.1 1481.2,575.8 1483.9,572.6 1486.6,569.3 1489.4,566.0 1492.1,562.8 1494.8,559.5 1497.5,556.2 1500.2,553.0 1502.9,549.7 1505.7,546.5 1508.4,543.2 1511.1,539.9 1513.8,536.7 1516.5,533.4 1519.2,530.1 1521.9,526.9 1524.7,523.6 1527.4,520.3 1530.1,517.0 1532.8,513.8 1535.5,510.5 1538.2,507.2 1541.0,503.9 1543.7,500.7 1546.4,497.4 1549.1,494.1 1551.8,490.8 1554.5,487.6 1557.2,484.3 1560.0,481.0 1562.7,477.7 1565.4,474.5 1568.1,471.2 1570.8,467.9 1573.5,464.6 1576.3,461.3 1579.0,458.0 1581.7,454.8 1584.4,451.5 1587.1,448.2 1589.8,444.9 1592.6,441.6 1595.3,438.3 1598.0,435.0 1600.7,431.8 1603.4,428.5 1606.1,425.2 1608.8,421.9 1611.6,418.6 1614.3,415.3 1617.0,412.0 1619.7,408.7 1622.4,405.4 1625.1,402.2 1627.9,398.9 1630.6,395.6 1633.3,392.3 1636.0,389.0 1638.7,385.7 1641.4,382.4 1644.1,379.1 1646.9,375.8 1649.6,372.5 1652.3,369.2 1655.0,365.9 1657.7,362.6 1660.4,359.3 1663.2,356.0 1665.9,352.7 1668.6,349.4 1671.3,346.1 1674.0,342.8 1676.7,339.5 1679.4,336.2 1682.2,332.9 1684.9,329.6 1687.6,326.3 1690.3,323.0 1693.0,319.7 1695.7,316.4 1698.5,313.1 1701.2,309.8 1703.9,306.5 1706.6,303.2 1709.3,299.9 1712.0,296.6 1714.7,293.3 1717.5,290.0 1720.2,286.7 1722.9,283.3 1725.6,280.0 1728.3,276.7 1731.0,273.4 1733.8,270.1 1736.5,266.8 1739.2,263.5 1741.9,260.2 1744.6,256.9 1747.3,253.6 1750.1,250.3 1752.8,246.9 1755.5,243.6 1758.2,240.3 1760.9,237.0 1763.6,233.7 1766.3,230.4 1769.1,227.1 1771.8,223.8 1774.5,220.5 1777.2,217.1 1779.9,213.8 1782.6,210.5 1785.4,207.2 1788.1,203.9 1790.8,200.6 1793.5,197.3 1796.2,193.9 1798.9,190.6 1801.6,187.3 1804.4,184.0 1807.1,180.7 1809.8,177.4 1812.5,174.0 1815.2,170.7 1817.9,167.4 1820.7,164.1 1823.4,160.8 1826.1,157.4 1828.8,154.1" fill="none" stroke="#0000ff" stroke-width="3.2"/>
<g font-family="'Liberation Serif','Times New Roman',serif" font-size="60" fill="#ff0000">
<text x="182.5" y="1513.7" text-anchor="end">0</text>
<text x="182.5" y="1380.0" text-anchor="end">0.1</text>
<text x="182.5" y="1246.3" text-anchor="end">0.2</text>
<text x="182.5" y="1112.6" text-anchor="end">0.3</text>
<text x="182.5" y="978.9" text-anchor="end">0.4</text>
<text x="182.5" y="845.2" text-anchor="end">0.5</text>
<text x="182.5" y="711.5" text-anchor="end">0.6</text>
<text x="182.5" y="577.8" text-anchor="end">0.7</text>
<text x="182.5" y="444.1" text-anchor="end">0.8</text>
<text x="182.5" y="310.4" text-anchor="end">0.9</text>
<text x="182.5" y="176.7" text-anchor="end">1</text>
<text x="199.5" y="1566.3" text-anchor="middle">0</text>
<text x="471.1" y="1566.3" text-anchor="middle">50</text>
<text x="742.6" y="1566.3" text-anchor="middle">100</text>
<text x="1014.1" y="1566.3" text-anchor="middle">150</text>
<text x="1285.7" y="1566.3" text-anchor="middle">200</text>
<text x="1557.2" y="1566.3" text-anchor="middle">250</text>
<text x="1828.8" y="1566.3" text-anchor="middle">300</text>
</g>
<g font-family="'Liberation Serif','Times New Roman',serif" font-size="60" fill="#0000ff">
<text x="199.5" y="126.3" text-anchor="middle">0.1</text>
<text x="742.6" y="126.3" text-anchor="middle">1</text>
<text x="1285.7" y="126.3" text-anchor="middle">10</text>
<text x="1828.8" y="126.3" text-anchor="middle">100</text>
<text x="1849" y="1514.5">1</text>
<text x="1849" y="846.0">10</text>
<text x="1849" y="177.5">100</text>
</g>
<g fill="#ff0000">
<text font-family="'Liberation Serif','Times New Roman',serif" font-size="65.5" x="585.6" y="1646">Frequency Separation </text>
<text font-family="'DejaVu Serif',serif" font-size="65.2" stroke="#fff" stroke-width="1.6" transform="translate(1173.7 1646) scale(1.176 1)">&#916;</text>
<text font-family="'DejaVu Serif',serif" font-style="italic" font-size="60" stroke="#fff" stroke-width="1.2" transform="translate(1223.5 1646) skewX(-9)">f</text>
<text font-family="'Liberation Serif','Times New Roman',serif" font-size="65.5" x="1265" y="1646"> (MHz)</text>
</g>
<g fill="#0000ff">
<text font-family="'Liberation Serif','Times New Roman',serif" font-style="italic" font-size="65.5" x="936" y="75">B</text>
<text font-family="'Liberation Serif','Times New Roman',serif" font-size="65.5" x="977" y="75">/</text>
<text font-family="'DejaVu Serif',serif" font-size="64.4" stroke="#fff" stroke-width="1.8" transform="translate(993.4 75) scale(1.234 1)">&#916;</text>
<text font-family="'DejaVu Serif',serif" font-style="italic" font-size="64.6" stroke="#fff" stroke-width="1.2" transform="translate(1044.4 75) skewX(-4)">f</text>
<text font-family="'Liberation Serif','Times New Roman',serif" font-style="italic" font-size="53" x="1067.3" y="107.4">c</text>
</g>
<g fill="#ff0000" transform="translate(72.5 0) rotate(-90)">
<text font-family="'Liberation Serif','Times New Roman',serif" font-size="65.5" x="-1213" y="0">Correlation Coefficient </text>
<text font-family="'DejaVu Serif',serif" font-style="italic" font-size="62" x="-584.9" y="0">&#961;</text>
<rect x="-580" y="-45" width="29.8" height="3.6"/>
<text font-family="'Liberation Serif','Times New Roman',serif" font-size="65.5" x="-549" y="0">(</text>
<text font-family="'DejaVu Serif',serif" font-size="62" stroke="#fff" stroke-width="1.4" x="-527.8" y="0">&#916;</text>
<text font-family="'DejaVu Serif',serif" font-style="italic" font-size="62" stroke="#fff" stroke-width="1.2" transform="translate(-486.5 0) skewX(-8)">f</text>
<text font-family="'Liberation Serif','Times New Roman',serif" font-size="65.5" x="-449.3" y="0">)</text>
</g>
<text font-family="'Liberation Serif','Times New Roman',serif" font-size="65.5" fill="#0000ff" transform="translate(1982 0) rotate(-90)" x="-1415.7" y="0">Effective Number of Independent Samples N</text>
<rect x="759.7" y="283" width="569.5" height="348.5" fill="#ffffff" stroke="#5e5e5e" stroke-width="5.5"/>
<line x1="769" y1="321.3" x2="868" y2="321.3" stroke="#ff0000" stroke-width="3.6"/>
<text font-family="'Liberation Serif','Times New Roman',serif" font-size="59.2" fill="#000000" x="876.3" y="342.7">Theoretical</text>
<line x1="769" y1="389.5" x2="868" y2="389.5" stroke="#0072bd" stroke-width="3.6" stroke-dasharray="20 18"/>
<text font-family="'Liberation Serif','Times New Roman',serif" font-size="59.2" fill="#000000" x="876.3" y="410.9">HH Pol. Measured</text>
<line x1="769" y1="457.7" x2="868" y2="457.7" stroke="#ff00ff" stroke-width="3.6" stroke-dasharray="20 4.5 9 4.5"/>
<text font-family="'Liberation Serif','Times New Roman',serif" font-size="59.2" fill="#000000" x="876.3" y="479.1">VV Pol. Measured</text>
<line x1="769" y1="525.9" x2="868" y2="525.9" stroke="#7e2f8e" stroke-width="6.0" stroke-dasharray="9 6.8"/>
<text font-family="'Liberation Serif','Times New Roman',serif" font-size="59.2" fill="#000000" x="876.3" y="547.3">HV Pol. Measured</text>
<line x1="769" y1="594.1" x2="868" y2="594.1" stroke="#00ff00" stroke-width="3.6"/>
<text font-family="'Liberation Serif','Times New Roman',serif" font-size="59.2" fill="#000000" x="876.3" y="615.5">VH Pol. Measured</text>
</svg>
</body></html>
